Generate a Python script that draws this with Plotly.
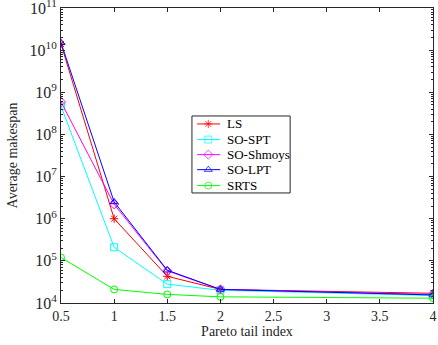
import plotly.graph_objects as go

x_vals = [0.5, 1, 1.5, 2, 4]
ls = [1.4e10, 1.0e6, 4.3e4, 2.1e4, 1.7e4]
so_spt = [4.7e8, 2.1e5, 2.8e4, 2.0e4, 1.5e4]
so_shmoys = [5.9e8, 2.2e6, 5.8e4, 2.1e4, 1.6e4]
so_lpt = [1.5e10, 2.5e6, 6.0e4, 2.1e4, 1.55e4]
srts = [1.2e5, 2.1e4, 1.6e4, 1.4e4, 1.3e4]

series_names = ["LS", "SO-SPT", "SO-Shmoys", "SO-LPT", "SRTS"]
series_values = [ls, so_spt, so_shmoys, so_lpt, srts]
series_colors = ["red", "cyan", "magenta", "blue", "#00ff00"]
series_symbols = ["asterisk-open", "square-open", "diamond-open", "triangle-up-open", "circle-open"]

x_ticks = [0.5, 1, 1.5, 2, 2.5, 3, 3.5, 4]
x_ticklabels = ["0.5", "1", "1.5", "2", "2.5", "3", "3.5", "4"]
y_exps = [4, 5, 6, 7, 8, 9, 10, 11]

SERIF = "Liberation Serif, Times New Roman, serif"
DARK = "#262626"

fig = go.Figure()
for name, vals, color, sym in zip(series_names, series_values, series_colors, series_symbols):
    fig.add_trace(go.Scatter(
        x=x_vals, y=vals, name=name, mode="lines+markers",
        line=dict(color=color, width=1),
        marker=dict(symbol=sym, size=7, color=color, line=dict(color=color, width=1)),
        showlegend=False,
    ))

# custom compact legend (MATLAB-like) in an overlay axis spanning the plot area
leg_x0, leg_x1 = 0.352, 0.616
leg_y0, leg_y1 = 0.373, 0.634
row_y = [0.607, 0.554, 0.503, 0.452, 0.398]
samp_x = [0.366, 0.396, 0.428]
text_x = 0.440

fig.add_shape(type="rect", xref="paper", yref="paper",
              x0=leg_x0, x1=leg_x1, y0=leg_y0, y1=leg_y1,
              line=dict(color=DARK, width=1), fillcolor="white", layer="below")
for i, (name, color, sym) in enumerate(zip(series_names, series_colors, series_symbols)):
    fig.add_trace(go.Scatter(
        x=samp_x, y=[row_y[i]] * 3, xaxis="x2", yaxis="y2",
        mode="lines+markers", line=dict(color=color, width=1),
        marker=dict(symbol=sym, size=[0, 7, 0], color=color, line=dict(color=color, width=1)),
        showlegend=False, hoverinfo="skip",
    ))
    fig.add_annotation(x=text_x, y=row_y[i], xref="paper", yref="paper",
                       text=name, showarrow=False, xanchor="left", yanchor="middle",
                       font=dict(family=SERIF, size=13, color="black"))

font = dict(family=SERIF, size=14, color=DARK)
fig.update_layout(
    width=438, height=345,
    margin=dict(l=61, r=5, t=8, b=42),
    plot_bgcolor="white", paper_bgcolor="white",
    font=font,
    showlegend=False,
    xaxis2=dict(overlaying="x", range=[0, 1], visible=False, fixedrange=True),
    yaxis2=dict(overlaying="y", range=[0, 1], visible=False, fixedrange=True),
)
fig.update_layout(xaxis=dict(
    range=[0.5, 4], tickvals=x_ticks, ticktext=x_ticklabels,
    tickfont=dict(family=SERIF, size=14, color=DARK),
    ticks="inside", ticklen=4, tickcolor=DARK, showgrid=False,
    showline=True, linecolor=DARK, linewidth=1, mirror="ticks",
    zeroline=False, automargin=False, ticklabeloverflow="allow",
    title=dict(text="Pareto tail index", standoff=2, font=dict(family=SERIF, size=14, color=DARK)),
))
fig.update_layout(yaxis=dict(
    type="log", range=[4, 11],
    tickvals=[10 ** e for e in y_exps],
    ticktext=["10<sup>%d</sup>" % e for e in y_exps],
    tickfont=dict(family=SERIF, size=16, color=DARK),
    ticks="inside", ticklen=4, tickcolor=DARK, showgrid=False,
    showline=True, linecolor=DARK, linewidth=1, mirror="ticks",
    zeroline=False, automargin=False, ticklabeloverflow="allow",
    minor=dict(ticks="inside", ticklen=2, tickcolor=DARK, dtick="D1", showgrid=False),
    title=dict(text="Average makespan", standoff=8, font=dict(family=SERIF, size=14, color=DARK)),
))
fig.write_html("out.html", post_script="document.body.style.margin='0';",
               config={"displayModeBar": False})
